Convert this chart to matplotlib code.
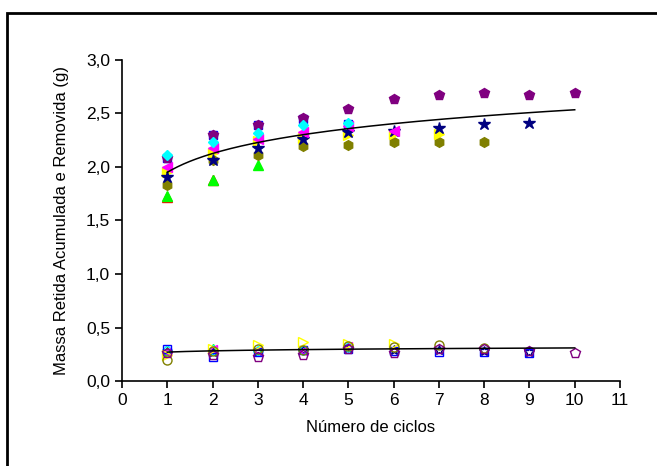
import matplotlib
matplotlib.use("Agg")
import matplotlib.pyplot as plt
import numpy as np
from matplotlib.patches import Rectangle
from matplotlib.ticker import FuncFormatter

plt.rcParams['font.family'] = ['Liberation Sans', 'DejaVu Sans']

ciclos = np.arange(1, 11)

# massa retida (marcadores cheios)
purple_up = [2.08, 2.30, 2.39, 2.46, 2.54, 2.64, 2.67, 2.69, 2.67, 2.69]
navy_up = [1.91, 2.07, 2.18, 2.26, 2.33, 2.34, 2.36, 2.40, 2.41]
olive_up = [1.83, 2.07, 2.11, 2.20, 2.21, 2.23, 2.23, 2.23]
yellow_up = [1.95, 2.13, 2.24, 2.27, 2.30, 2.31, 2.31]
magenta_up = [2.00, 2.18, 2.26, 2.33, 2.38, 2.34]
cyan_up = [2.11, 2.23, 2.32, 2.39, 2.41]
blue_up = [2.08, 2.30, 2.39, 2.45, 2.40]
green_up = [1.73, 1.88, 2.02]
red_up = [1.72, 1.88]

# massa removida (marcadores abertos)
purple_low = [0.26, 0.24, 0.22, 0.24, 0.30, 0.26, 0.30, 0.30, 0.28, 0.26]
blue_low = [0.30, 0.22, 0.27, 0.29, 0.30, 0.28, 0.27, 0.27, 0.26]
navy_low = [0.27, 0.27, 0.27, 0.29, 0.31, 0.29, 0.29, 0.28, 0.27]
olive_low = [0.20, 0.28, 0.30, 0.29, 0.33, 0.32, 0.34, 0.31]
yellow_low = [0.24, 0.30, 0.34, 0.36, 0.35, 0.35]
magenta_low = [0.27, 0.30, 0.28, 0.28, 0.33]
cyan_low = [0.29, 0.29, 0.28, 0.29, 0.32]
green_low = [0.28, 0.31, 0.29]

# ajustes logaritmicos y = a + b*ln(x)
fit_up = (1.95, 0.254)
fit_low = (0.27, 0.017)

fig = plt.figure(figsize=(6.57, 4.66), dpi=100)
ax = fig.add_axes([122/657, 1-381/466, 498/657, 321/466])

# ordem de desenho: o ultimo fica por cima
up = [
    (blue_up, 's', '#0000FF', 6),
    (red_up, '^', '#FF0000', 7),
    (green_up, '^', '#00FF00', 7),
    (olive_up, 'h', '#808000', 7),
    (yellow_up, '>', '#FFFF00', 7),
    (navy_up, '*', '#000080', 9),
    (magenta_up, '<', '#FF00FF', 7),
    (purple_up, 'p', '#800080', 7.5),
    (cyan_up, 'D', '#00FFFF', 5.5),
]
for vals, mk, col, ms in up:
    ax.plot(ciclos[:len(vals)], vals, ls='none', marker=mk, color=col,
            ms=ms, mec=col, zorder=3)

low = [
    (navy_low, '*', '#000080', 7),
    (green_low, '^', '#00FF00', 6),
    (cyan_low, 'D', '#00FFFF', 5),
    (magenta_low, '<', '#FF00FF', 6),
    (blue_low, 's', '#0000FF', 5.5),
    (yellow_low, '>', '#FFFF00', 6.5),
    (olive_low, 'o', '#808000', 6.5),
    (purple_low, 'p', '#800080', 7),
]
for vals, mk, col, ms in low:
    ax.plot(ciclos[:len(vals)], vals, ls='none', marker=mk, mfc='none',
            mec=col, ms=ms, mew=1.0, zorder=3)

xf = np.linspace(1, 10, 200)
ax.plot(xf, fit_up[0] + fit_up[1]*np.log(xf), color='black', lw=1.1, zorder=4)
ax.plot(xf, fit_low[0] + fit_low[1]*np.log(xf), color='black', lw=1.1, zorder=4)

ax.set_xlim(0, 11)
ax.set_ylim(0, 3.0)
ax.set_xticks(range(0, 12))
ax.set_yticks(np.arange(0, 3.01, 0.5))
ax.yaxis.set_major_formatter(FuncFormatter(lambda v, p: ('%.1f' % v).replace('.', ',')))
ax.spines['top'].set_visible(False)
ax.spines['right'].set_visible(False)
for s in ['left', 'bottom']:
    ax.spines[s].set_linewidth(1.2)
ax.tick_params(direction='out', length=5, width=1.2, labelsize=12.5)
ax.set_xlabel('Número de ciclos', fontsize=12, labelpad=9)
ax.set_ylabel('Massa Retida Acumulada e Removida (g)', fontsize=12, labelpad=12)

fig.patches.append(Rectangle((7/657, -0.05), 1.1, (466-13)/466 + 0.05,
                             transform=fig.transFigure, fill=False,
                             lw=2, ec='black', clip_on=False))

fig.savefig('out.png', dpi=100)
